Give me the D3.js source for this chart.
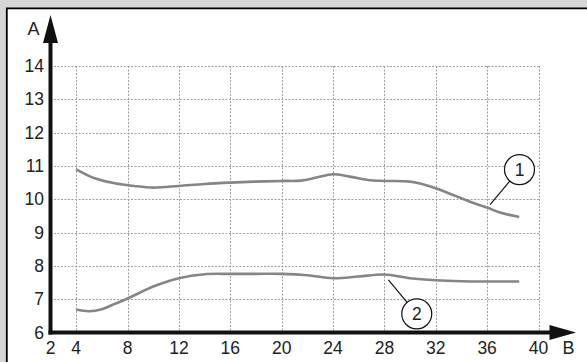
<!DOCTYPE html>
<html>
<head>
<meta charset="utf-8">
<script src="https://cdn.jsdelivr.net/npm/d3@7"></script>
<style>
  html, body { margin: 0; padding: 0; background: #d6d6d6; }
  svg { display: block; font-family: "Liberation Sans", Arial, sans-serif; }
</style>
</head>
<body>
<div id="chart"></div>
<script>
// curve 1 (upper)
var curve1X = [4, 5.5, 7, 8.5, 10, 12, 14, 16, 18, 20, 21.5, 22.7, 24, 25.3, 26.7, 28, 30, 31, 32, 33, 34, 35, 36, 37, 38.5];
var curve1Y = [10.9, 10.62, 10.48, 10.4, 10.35, 10.4, 10.46, 10.5, 10.53, 10.55, 10.56, 10.65, 10.75, 10.68, 10.58, 10.55, 10.53, 10.45, 10.33, 10.18, 10.03, 9.88, 9.75, 9.6, 9.47];
// curve 2 (lower)
var curve2X = [4, 5, 6, 7, 8, 10, 12, 14, 16, 18, 20, 22, 24, 26, 28, 30, 32, 34, 36, 38.5];
var curve2Y = [6.69, 6.64, 6.7, 6.86, 7.02, 7.38, 7.63, 7.75, 7.76, 7.76, 7.76, 7.72, 7.63, 7.68, 7.74, 7.63, 7.57, 7.54, 7.53, 7.53];

var xTicks = [2, 4, 8, 12, 16, 20, 24, 28, 32, 36, 40];
var yTicks = [6, 7, 8, 9, 10, 11, 12, 13, 14];

// callouts: label, circle centre, leader end (data units)
var calloutLabels = ["1", "2"];
var calloutCx = [38.52, 30.52];
var calloutCy = [10.89, 6.56];
var leaderX = [36.23, 28.31];
var leaderY = [9.84, 7.58];

var width = 587, height = 362;

var svg = d3.select("#chart").append("svg")
    .attr("width", width)
    .attr("height", height);

// white panel with black top/left border
svg.append("rect")
    .attr("x", 7).attr("y", 8.5)
    .attr("width", width).attr("height", height)
    .attr("fill", "#fff");
svg.append("path")
    .attr("d", "M6.8," + height + "V8.3H" + width)
    .attr("fill", "none")
    .attr("stroke", "#000")
    .attr("stroke-width", 1.8);

var x = d3.scaleLinear().domain([2, 40]).range([50.5, 538.5]);
var y = d3.scaleLinear().domain([6, 14]).range([332.5, 66]);

// grid
var grid = svg.append("g")
    .attr("stroke", "#a0a0a0")
    .attr("stroke-width", 1)
    .attr("stroke-dasharray", "2,1.5");

grid.selectAll("line.v")
    .data(xTicks.filter(function (d) { return d > 2; }))
    .enter().append("line")
    .attr("class", "v")
    .attr("x1", function (d) { return Math.round(x(d)) + 0.5; })
    .attr("x2", function (d) { return Math.round(x(d)) + 0.5; })
    .attr("y1", y(14))
    .attr("y2", y(6));

grid.selectAll("line.h")
    .data(yTicks.filter(function (d) { return d > 6; }))
    .enter().append("line")
    .attr("class", "h")
    .attr("x1", x(2))
    .attr("x2", x(40) + 1)
    .attr("y1", function (d) { return Math.round(y(d)) + 0.5; })
    .attr("y2", function (d) { return Math.round(y(d)) + 0.5; });

// curves
var line = d3.line()
    .x(function (d) { return x(d[0]); })
    .y(function (d) { return y(d[1]); })
    .curve(d3.curveCatmullRom.alpha(0.5));

svg.append("path")
    .datum(d3.zip(curve1X, curve1Y))
    .attr("d", line)
    .attr("fill", "none")
    .attr("stroke", "#858585")
    .attr("stroke-width", 2.6);

svg.append("path")
    .datum(d3.zip(curve2X, curve2Y))
    .attr("d", line)
    .attr("fill", "none")
    .attr("stroke", "#858585")
    .attr("stroke-width", 2.6);

// axes with arrows
svg.append("line")
    .attr("x1", x(2)).attr("x2", x(2))
    .attr("y1", y(6) + 2).attr("y2", 40)
    .attr("stroke", "#111").attr("stroke-width", 4);
svg.append("path")
    .attr("d", "M" + x(2) + ",15L" + (x(2) + 7.5) + ",43L" + (x(2) - 7.5) + ",43Z")
    .attr("fill", "#111");

svg.append("line")
    .attr("x1", x(2) - 2).attr("x2", 552)
    .attr("y1", y(6)).attr("y2", y(6))
    .attr("stroke", "#111").attr("stroke-width", 4);
svg.append("path")
    .attr("d", "M576," + y(6) + "L549.5," + (y(6) - 7.5) + "L549.5," + (y(6) + 7.5) + "Z")
    .attr("fill", "#111");

// tick labels
svg.selectAll("text.yt")
    .data(yTicks)
    .enter().append("text")
    .attr("class", "yt")
    .attr("x", 44)
    .attr("y", function (d) { return y(d) + 6; })
    .attr("text-anchor", "end")
    .attr("font-size", 17.5)
    .attr("fill", "#222")
    .text(function (d) { return d; });

svg.selectAll("text.xt")
    .data(xTicks)
    .enter().append("text")
    .attr("class", "xt")
    .attr("x", function (d) { return x(d); })
    .attr("y", 353.5)
    .attr("text-anchor", "middle")
    .attr("font-size", 17.5)
    .attr("fill", "#222")
    .text(function (d) { return d; });

svg.append("text")
    .attr("x", 33.5).attr("y", 35)
    .attr("text-anchor", "middle")
    .attr("font-size", 18)
    .attr("fill", "#222")
    .text("A");
svg.append("text")
    .attr("x", 568.5).attr("y", 353.5)
    .attr("text-anchor", "middle")
    .attr("font-size", 18)
    .attr("fill", "#222")
    .text("B");

// callouts
var callouts = svg.selectAll("g.callout")
    .data(calloutLabels.map(function (d, i) {
        return { label: d, cx: calloutCx[i], cy: calloutCy[i], lx: leaderX[i], ly: leaderY[i] };
    }))
    .enter().append("g")
    .attr("class", "callout");

callouts.append("line")
    .attr("x1", function (d) { return x(d.lx); })
    .attr("y1", function (d) { return y(d.ly); })
    .attr("x2", function (d) {
        var dx = x(d.cx) - x(d.lx), dy = y(d.cy) - y(d.ly), l = Math.sqrt(dx * dx + dy * dy);
        return x(d.cx) - dx / l * 15;
    })
    .attr("y2", function (d) {
        var dx = x(d.cx) - x(d.lx), dy = y(d.cy) - y(d.ly), l = Math.sqrt(dx * dx + dy * dy);
        return y(d.cy) - dy / l * 15;
    })
    .attr("stroke", "#111")
    .attr("stroke-width", 1.2);

callouts.append("circle")
    .attr("cx", function (d) { return x(d.cx); })
    .attr("cy", function (d) { return y(d.cy); })
    .attr("r", 15)
    .attr("fill", "#fff")
    .attr("stroke", "#111")
    .attr("stroke-width", 1.2);

callouts.append("text")
    .attr("x", function (d) { return x(d.cx); })
    .attr("y", function (d) { return y(d.cy) + 6.5; })
    .attr("text-anchor", "middle")
    .attr("font-size", 17.5)
    .attr("fill", "#222")
    .text(function (d) { return d.label; });
</script>
</body>
</html>
